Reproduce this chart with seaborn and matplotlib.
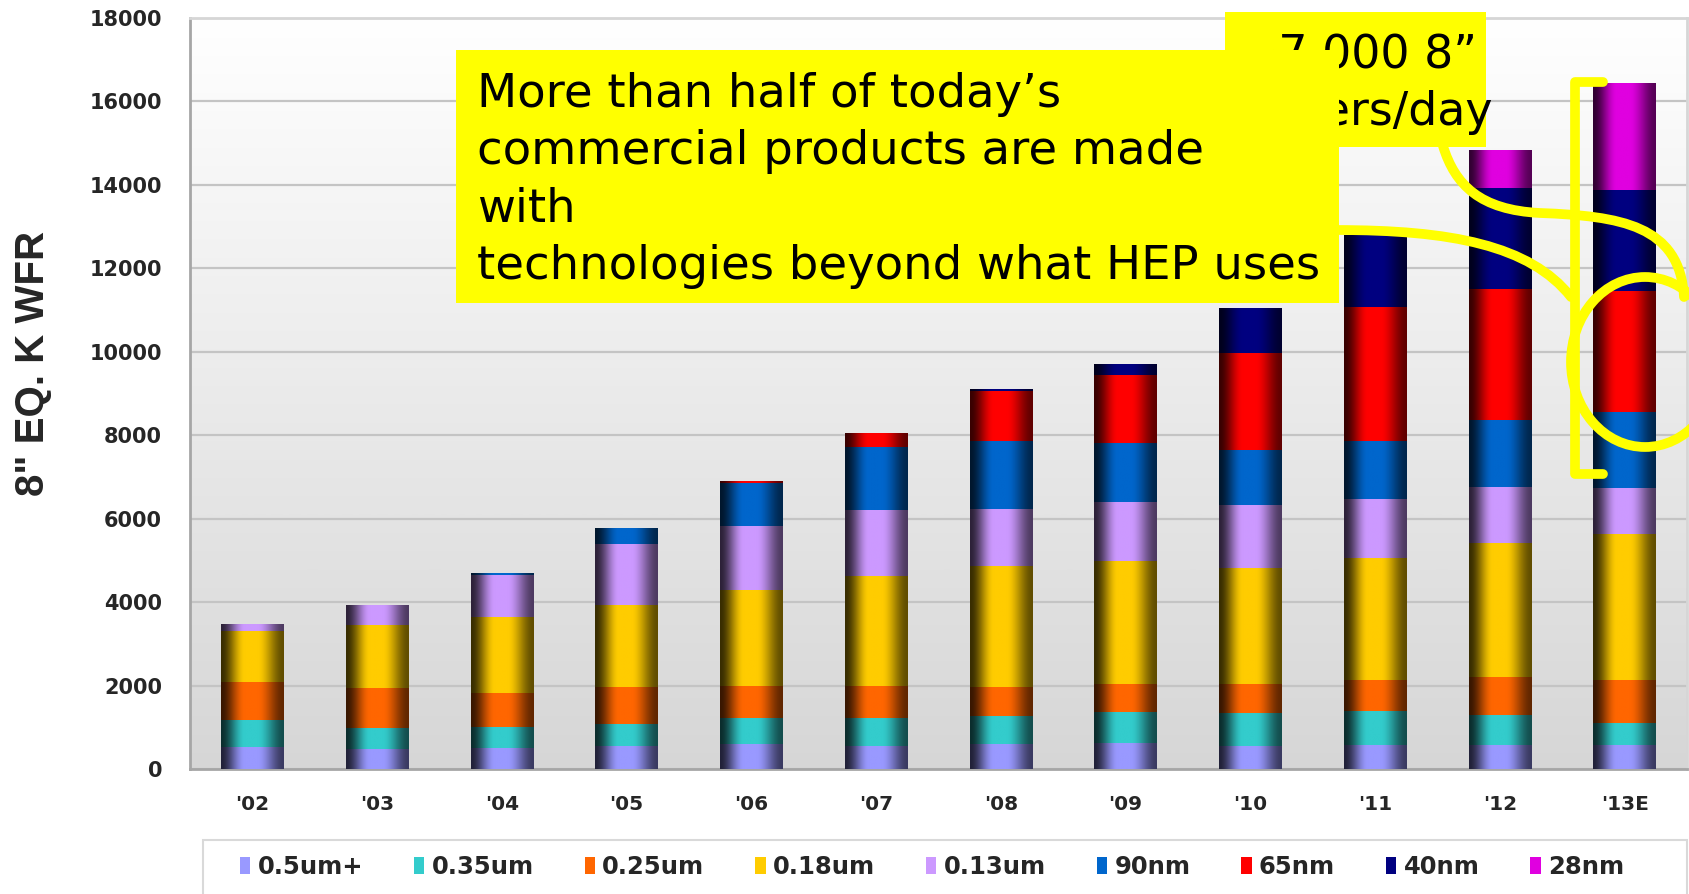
import numpy as np
import matplotlib
matplotlib.use("Agg")
import matplotlib.pyplot as plt
import seaborn as sns
from matplotlib import font_manager
from matplotlib.patches import Rectangle, Ellipse, PathPatch, Patch
from matplotlib.path import Path
from matplotlib.colors import to_rgb

# ---- data: wafer capacity by technology node (8" equivalent, K wafers) ----
years = ["'02", "'03", "'04", "'05", "'06", "'07", "'08", "'09", "'10", "'11", "'12", "'13E"]
nodes = ["0.5um+", "0.35um", "0.25um", "0.18um", "0.13um", "90nm", "65nm", "40nm", "28nm"]
node_colors = ["#9999FF", "#33CCCC", "#FF6600", "#FFCC00", "#CC99FF",
               "#0066CC", "#FF0000", "#000080", "#E000E0"]

cap_05um = [530, 490, 500, 560, 590, 560, 590, 620, 540, 580, 580, 580]
cap_035um = [650, 490, 500, 530, 640, 670, 670, 740, 800, 820, 720, 530]
cap_025um = [910, 970, 820, 880, 770, 770, 700, 680, 690, 730, 900, 1020]
cap_018um = [1210, 1500, 1820, 1950, 2300, 2630, 2900, 2940, 2780, 2920, 3220, 3510]
cap_013um = [160, 460, 1000, 1470, 1530, 1580, 1380, 1410, 1520, 1410, 1340, 1090]
cap_90nm = [0, 0, 30, 380, 1020, 1510, 1610, 1430, 1320, 1400, 1610, 1830]
cap_65nm = [0, 0, 0, 0, 25, 330, 1220, 1630, 2320, 3220, 3140, 2900]
cap_40nm = [0, 0, 0, 0, 0, 0, 30, 260, 1070, 1720, 2420, 2410]
cap_28nm = [0, 0, 0, 0, 0, 0, 0, 0, 0, 0, 900, 2560]

series = [cap_05um, cap_035um, cap_025um, cap_018um, cap_013um,
          cap_90nm, cap_65nm, cap_40nm, cap_28nm]

y_ticks = [0, 2000, 4000, 6000, 8000, 10000, 12000, 14000, 16000, 18000]

W, H = 1689, 894

sns.set_theme(style="white")
plt.rcParams["font.family"] = ["DejaVu Sans"]

installed = {f.name for f in font_manager.fontManager.ttflist}
narrow_family = "Liberation Sans Narrow" if "Liberation Sans Narrow" in installed else None

fig = plt.figure(figsize=(W / 100, H / 100), dpi=100)
fig.patch.set_facecolor("white")
ax = fig.add_axes([190 / W, 1 - 769 / H, (1687 - 190) / W, (769 - 18) / H])


def fp(x, y):
    """pixel position (from top-left) -> figure fraction"""
    return (x / W, 1 - y / H)


x = np.arange(len(years))
bar_w = 0.5

# shading profile across a bar: dark edges, bright just left of centre
t = np.linspace(0, 1, 200)


def smooth(a):
    return a * a * (3 - 2 * a)


shade = np.where(
    t < 0.38, 0.22 + 0.78 * smooth(np.clip(t / 0.38, 0, 1)),
    np.where(t < 0.58, 1.0, 1.0 - 0.62 * smooth(np.clip((t - 0.58) / 0.42, 0, 1))))

bottom = np.zeros(len(years))
for vals, col in zip(series, node_colors):
    vals = np.asarray(vals, dtype=float)
    bars = ax.bar(x, vals, width=bar_w, bottom=bottom, color=col,
                  linewidth=0, zorder=2)
    rgb = np.array(to_rgb(col))
    grad = (shade[:, None] * rgb[None, :])[None, :, :]
    for p in bars.patches:
        if p.get_height() <= 0:
            continue
        x0, y0 = p.get_x(), p.get_y()
        ax.imshow(grad, extent=[x0, x0 + p.get_width(), y0, y0 + p.get_height()],
                  aspect="auto", interpolation="bilinear", zorder=3)
    bottom += vals

# plot-area background: white fading to light grey
bg = np.linspace(1.0, 0.84, 256)[:, None]
bg = np.dstack([bg, bg, bg])
ax.imshow(bg, extent=[-0.5, len(years) - 0.5, 0, 18000], aspect="auto",
          interpolation="bilinear", zorder=0)

ax.set_xlim(-0.5, len(years) - 0.5)
ax.set_ylim(0, 18000)
ax.set_yticks(y_ticks)
ax.set_yticklabels([str(v) for v in y_ticks], fontsize=15, fontweight="bold")
ax.set_xticks(x)
ax.set_xticklabels(years, fontsize=14.5, fontweight="bold")
ax.set_xticks(x[:-1] + 0.5, minor=True)
ax.tick_params(axis="y", direction="out", length=4, width=1.2, color="#a6a6a6", pad=16)
ax.tick_params(axis="x", which="major", length=0, pad=19)
ax.tick_params(axis="x", which="minor", direction="in", length=6, width=1.2, color="#bdbdbd")
ax.yaxis.grid(True, color="#c4c4c4", linewidth=1.6, zorder=1)
ax.xaxis.grid(False)
ax.set_axisbelow(True)
for side in ["left", "bottom"]:
    ax.spines[side].set_color("#a6a6a6")
    ax.spines[side].set_linewidth(2)
for side in ["top", "right"]:
    ax.spines[side].set_color("#d6d6d6")
    ax.spines[side].set_linewidth(2)

# y-axis title
if narrow_family:
    fig.text(*fp(33, 363), "8\" EQ. K WFR", rotation=90, ha="center", va="center",
             fontsize=35, fontweight="bold", family=narrow_family)
else:
    fig.text(*fp(33, 363), "8\" EQ. K WFR", rotation=90, ha="center", va="center",
             fontsize=29, fontweight="bold", family="Liberation Sans")

# legend with its own frame running off the bottom edge
fig.patches.append(Rectangle(fp(203, 905), (1687 - 203) / W, (905 - 840) / H,
                             transform=fig.transFigure, facecolor="white",
                             edgecolor="#d9d9d9", linewidth=1.5, zorder=1))
handles = [Patch(facecolor=c, edgecolor="none", label=n) for n, c in zip(nodes, node_colors)]
fig.legend(handles=handles, loc="center", bbox_to_anchor=fp(932, 867), ncol=len(nodes),
           frameon=False, prop={"weight": "bold", "size": 17.5},
           handlelength=0.42, handleheight=0.65, handletextpad=0.3, columnspacing=2.1)

# ---- call-outs ----
YEL = "#FFFF00"
line_kw = dict(transform=fig.transFigure, fill=False, edgecolor=YEL,
               linewidth=7, capstyle="round", joinstyle="round", zorder=6)


def bez(points, codes):
    return Path([fp(*p) for p in points], codes)


C4 = Path.CURVE4
fig.patches.append(PathPatch(bez([(1336, 230), (1450, 230), (1530, 245), (1571, 297)],
                                 [Path.MOVETO, C4, C4, C4]), **line_kw))
fig.patches.append(PathPatch(bez([(1443, 146), (1455, 185), (1480, 210), (1540, 213),
                                  (1620, 216), (1680, 225), (1684, 297)],
                                 [Path.MOVETO, C4, C4, C4, C4, C4, C4]), **line_kw))
# bracket beside the last bar
fig.patches.append(PathPatch(bez([(1603, 82), (1575, 82), (1575, 474), (1603, 474)],
                                 [Path.MOVETO, Path.LINETO, Path.LINETO, Path.LINETO]),
                             **line_kw))
# ring around the 65nm segment of the last bar
fig.patches.append(Ellipse(fp(1645, 362), 148 / W, 170 / H, transform=fig.transFigure,
                           fill=False, edgecolor=YEL, linewidth=7, zorder=6))

# back note
fig.patches.append(Rectangle(fp(1225, 147), (1486 - 1225) / W, (147 - 12) / H,
                             transform=fig.transFigure, facecolor=YEL,
                             edgecolor="none", zorder=7))
fig.text(*fp(1240, 125), "~7,000 8\u201d\nwafers/day", fontsize=33, ha="left",
         va="baseline", linespacing=1.35, color="black", zorder=8)

# front note
fig.patches.append(Rectangle(fp(456, 303), (1339 - 456) / W, (303 - 50) / H,
                             transform=fig.transFigure, facecolor=YEL,
                             edgecolor="none", zorder=9))
fig.text(*fp(477, 279),
         "More than half of today\u2019s\ncommercial products are made\nwith\n"
         "technologies beyond what HEP uses",
         fontsize=33.5, ha="left", va="baseline", linespacing=1.35, color="black", zorder=10)

fig.savefig("out.png", dpi=100)
